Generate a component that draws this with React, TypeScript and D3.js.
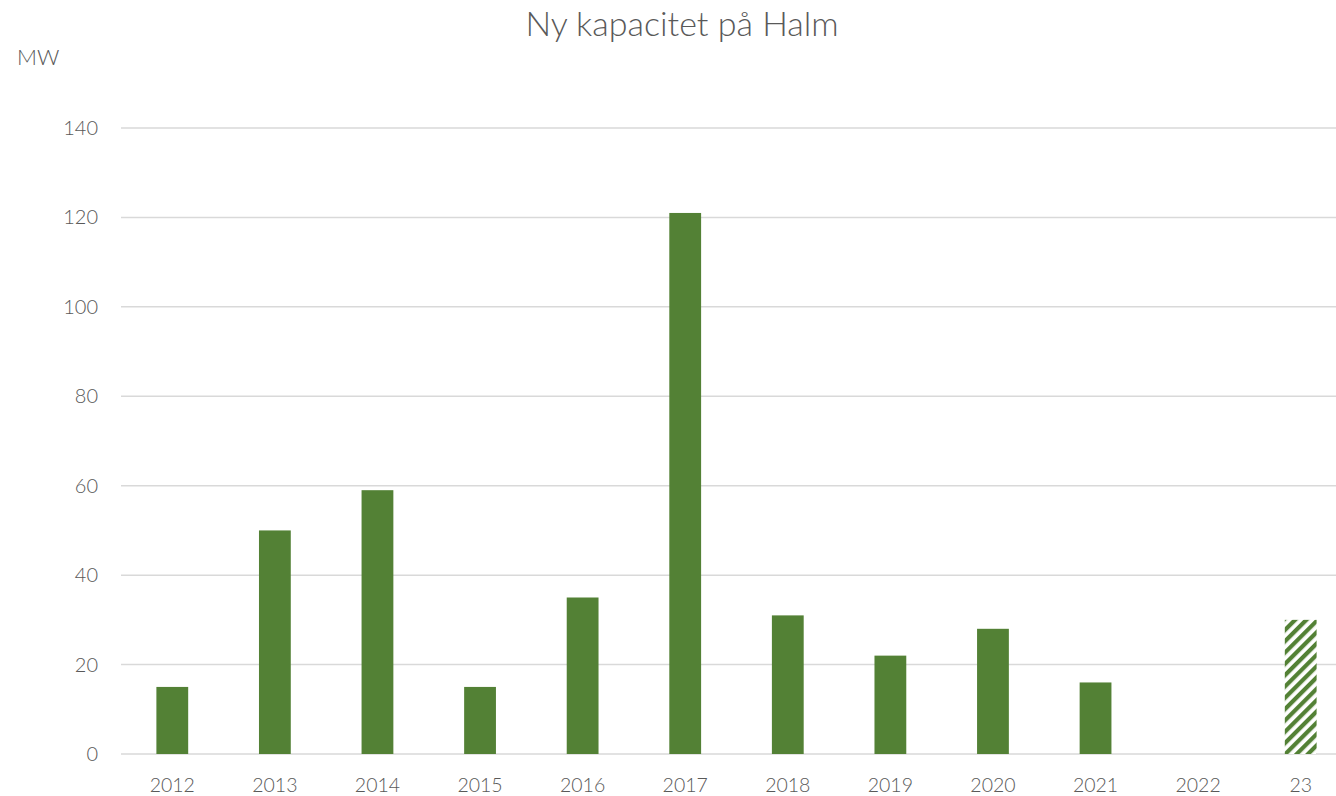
import { useEffect, useRef } from "react"
import * as d3 from "d3"

const categories = ["2012", "2013", "2014", "2015", "2016", "2017", "2018", "2019", "2020", "2021", "2022", "23"]
const values = [15, 50, 59, 15, 35, 121, 31, 22, 28, 16, 0, 30]
// the last category is a forecast, drawn hatched
const forecast = [false, false, false, false, false, false, false, false, false, false, false, true]
const yTicks = [0, 20, 40, 60, 80, 100, 120, 140]

export default function App() {
  const svgRef = useRef<SVGSVGElement>(null)

  useEffect(() => {
    if (!svgRef.current) return
    const svg = d3.select(svgRef.current)
    svg.selectAll("*").remove()

    const width = 1336
    const height = 796
    const left = 121
    const right = 1352 // plot runs slightly past the visible edge
    const top = 128
    const bottom = 754
    const font = "Lato, 'Open Sans', sans-serif"

    svg.attr("width", width).attr("height", height)

    const defs = svg.append("defs")
    const pat = defs
      .append("pattern")
      .attr("id", "hatch")
      .attr("patternUnits", "userSpaceOnUse")
      .attr("width", 8)
      .attr("height", 8)
      .attr("patternTransform", "rotate(45)")
    pat.append("rect").attr("width", 8).attr("height", 8).attr("fill", "white")
    pat.append("rect").attr("width", 4.2).attr("height", 8).attr("fill", "#538135")

    const x = d3.scaleBand<string>().domain(categories).range([left, right]).paddingInner(0.69).paddingOuter(0.345)
    const y = d3.scaleLinear().domain([0, 140]).range([bottom, top])

    // gridlines
    svg
      .append("g")
      .selectAll("line")
      .data(yTicks)
      .enter()
      .append("line")
      .attr("x1", left)
      .attr("x2", right)
      .attr("y1", (d) => y(d))
      .attr("y2", (d) => y(d))
      .attr("stroke", "#d9d9d9")
      .attr("stroke-width", 1.5)

    // y labels
    svg
      .append("g")
      .selectAll("text")
      .data(yTicks)
      .enter()
      .append("text")
      .attr("x", 98)
      .attr("y", (d) => y(d))
      .attr("dy", "0.35em")
      .attr("text-anchor", "end")
      .style("font-family", font)
      .style("font-weight", 300)
      .style("font-size", "20px")
      .style("fill", "#595959")
      .text((d) => d)

    // bars
    svg
      .append("g")
      .selectAll("rect")
      .data(categories)
      .enter()
      .append("rect")
      .attr("x", (d) => x(d)!)
      .attr("width", x.bandwidth())
      .attr("y", (d, i) => y(values[i]))
      .attr("height", (d, i) => bottom - y(values[i]))
      .attr("fill", (d, i) => (forecast[i] ? "url(#hatch)" : "#538135"))

    // x labels
    svg
      .append("g")
      .selectAll("text")
      .data(categories)
      .enter()
      .append("text")
      .attr("x", (d) => x(d)! + x.bandwidth() / 2)
      .attr("y", 792)
      .attr("text-anchor", "middle")
      .style("font-family", font)
      .style("font-weight", 300)
      .style("font-size", "19.5px")
      .style("fill", "#595959")
      .text((d) => d)

    svg
      .append("text")
      .attr("x", 682)
      .attr("y", 36)
      .attr("text-anchor", "middle")
      .style("font-family", font)
      .style("font-weight", 300)
      .style("font-size", "34px")
      .style("fill", "#595959")
      .text("Ny kapacitet på Halm")

    svg
      .append("text")
      .attr("x", 17)
      .attr("y", 65)
      .style("font-family", font)
      .style("font-weight", 300)
      .style("font-size", "22px")
      .style("fill", "#595959")
      .text("MW")
  }, [])

  return (
    <div style={{ position: "absolute", left: 0, top: 0, background: "white" }}>
      <svg ref={svgRef} style={{ display: "block" }}></svg>
    </div>
  )
}
